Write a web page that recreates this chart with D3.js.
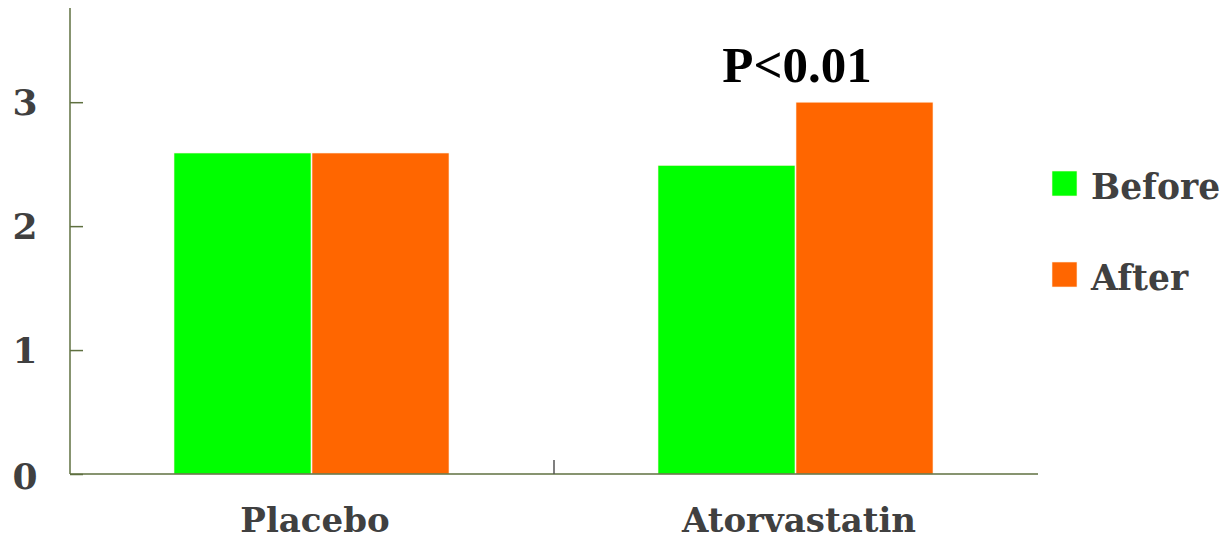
<!DOCTYPE html>
<html><head><meta charset="utf-8">
<script src="https://cdn.jsdelivr.net/npm/d3@7"></script>
<style>body{margin:0;background:#fff}svg{display:block}</style>
</head><body>
<svg id="chart" width="1223" height="540"></svg>
<script>
const categories = ["Placebo", "Atorvastatin"];
const seriesNames = ["Before", "After"];
const beforeValues = [2.59, 2.49];
const afterValues = [2.59, 3.0];
const yTicks = [0, 1, 2, 3];
const annotation = {category: "Atorvastatin", text: "P<0.01"};
const colors = ["#00ff00", "#ff6600"];

const svg = d3.select("#chart");
const m = {left: 70, right: 185, top: 8, bottom: 66};
const W = 1223, H = 540;
const x = d3.scaleBand().domain(categories).range([m.left, W - m.right]);
const xs = d3.scaleBand().domain(seriesNames).range([0, 276]);
const y = d3.scaleLinear().domain([0, 3.76]).range([H - m.bottom, m.top]);
const axisColor = "#5f7040";
const font = "'DejaVu Serif', serif";

const data = categories.map((c, i) => ({cat: c, vals: [beforeValues[i], afterValues[i]]}));
const g = svg.append("g");
data.forEach(d => {
  const cx = x(d.cat) + x.bandwidth() / 2 - 138;
  d.vals.forEach((v, j) => {
    g.append("rect")
      .attr("x", cx + xs(seriesNames[j]))
      .attr("y", y(v))
      .attr("width", xs.bandwidth() - 1)
      .attr("height", y(0) - y(v))
      .attr("fill", colors[j])
      .attr("stroke", "#fff0e0").attr("stroke-width", 0.6);
  });
});

// y axis
const yAxis = svg.append("g").attr("transform", `translate(${m.left},0)`)
  .call(d3.axisRight(y).tickValues(yTicks).tickSize(13).tickFormat(""));
yAxis.select(".domain").remove();
yAxis.selectAll("line").attr("stroke", axisColor).attr("stroke-width", 1.5);
svg.append("line").attr("x1", m.left).attr("x2", m.left).attr("y1", m.top).attr("y2", y(0))
  .attr("stroke", axisColor).attr("stroke-width", 1.5);
yTicks.forEach(t => {
  svg.append("text").attr("x", 25).attr("y", y(t) + 13 + (t === 0 ? 2 : 0))
    .attr("text-anchor", "middle").attr("font-family", font).attr("font-weight", "bold")
    .attr("font-size", 36).attr("fill", "#404040").text(t);
});

// x axis
svg.append("line").attr("x1", m.left).attr("x2", W - m.right).attr("y1", y(0)).attr("y2", y(0))
  .attr("stroke", axisColor).attr("stroke-width", 1.5);
svg.append("line").attr("x1", x(categories[1])).attr("x2", x(categories[1]))
  .attr("y1", y(0) - 14).attr("y2", y(0)).attr("stroke", "#555").attr("stroke-width", 1.5);
categories.forEach(c => {
  svg.append("text").attr("x", x(c) + x.bandwidth() / 2 + 3).attr("y", 532)
    .attr("text-anchor", "middle").attr("font-family", font).attr("font-weight", "bold")
    .attr("font-size", 34).attr("fill", "#404040").text(c);
});

// annotation
svg.append("text").attr("x", x(annotation.category) + x.bandwidth() / 2 + 1).attr("y", 82)
  .attr("text-anchor", "middle").attr("font-family", "'Liberation Serif', serif").attr("font-weight", "bold")
  .attr("font-size", 51).attr("fill", "#000").text(annotation.text);

// legend
const leg = svg.append("g");
seriesNames.forEach((s, i) => {
  const ly = 171 + i * 91;
  leg.append("rect").attr("x", 1052).attr("y", ly).attr("width", 25).attr("height", 25)
    .attr("fill", colors[i]).attr("stroke", "#fff0e0").attr("stroke-width", 0.6);
  leg.append("text").attr("x", 1091).attr("y", ly + 28).attr("font-family", font)
    .attr("font-weight", "bold").attr("font-size", 34.5).attr("fill", "#404040").text(s);
});
</script>
</body></html>
